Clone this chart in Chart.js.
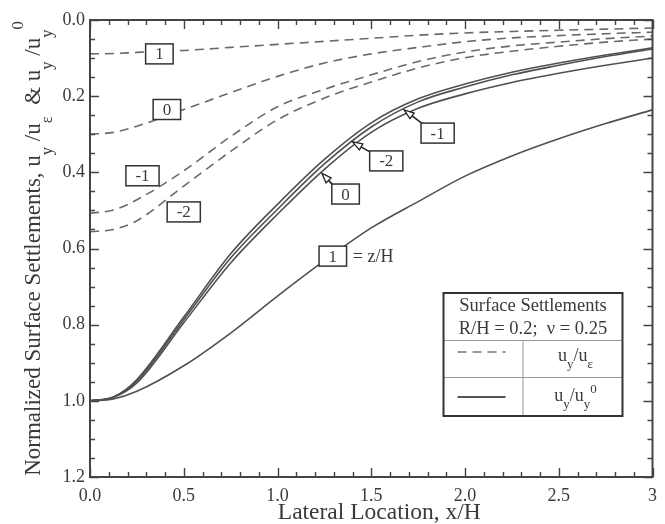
<!DOCTYPE html>
<html>
<head>
<meta charset="utf-8">
<script src="https://cdn.jsdelivr.net/npm/chart.js@4.4.1/dist/chart.umd.min.js"></script>
<style>
  html, body { margin: 0; padding: 0; background: #fff; }
  canvas { display: block; }
</style>
</head>
<body>
<canvas id="settleChart" width="665" height="524"></canvas>
<script>
// lateral location x/H shared by all curves
const xH = [0, 0.125, 0.25, 0.5, 0.75, 1.0, 1.25, 1.5, 1.75, 2.0, 2.25, 2.5, 2.75, 3.0];

// u_y / u_eps (dashed), one per z/H
const dashZ1  = [0.089, 0.088, 0.085, 0.080, 0.072, 0.064, 0.056, 0.048, 0.040, 0.034, 0.030, 0.027, 0.024, 0.021];
const dashZ0  = [0.300, 0.295, 0.279, 0.235, 0.191, 0.148, 0.113, 0.089, 0.072, 0.057, 0.047, 0.041, 0.036, 0.032];
const dashZm1 = [0.507, 0.499, 0.472, 0.396, 0.306, 0.228, 0.182, 0.144, 0.109, 0.084, 0.068, 0.058, 0.049, 0.042];
const dashZm2 = [0.556, 0.550, 0.527, 0.436, 0.345, 0.262, 0.205, 0.163, 0.126, 0.099, 0.082, 0.069, 0.058, 0.050];

// u_y / u_y^0 (solid), one per z/H
const solidZ1  = [1.0, 0.995, 0.975, 0.908, 0.822, 0.725, 0.632, 0.546, 0.477, 0.410, 0.357, 0.312, 0.272, 0.236];
const solidZm1 = [1.0, 0.990, 0.944, 0.780, 0.614, 0.484, 0.366, 0.270, 0.207, 0.168, 0.137, 0.113, 0.092, 0.073];
const solidZm2 = [1.0, 0.990, 0.948, 0.787, 0.625, 0.497, 0.378, 0.281, 0.215, 0.176, 0.144, 0.119, 0.096, 0.076];
const solidZ0  = [1.0, 0.991, 0.953, 0.795, 0.638, 0.510, 0.392, 0.295, 0.232, 0.194, 0.164, 0.140, 0.119, 0.100];

// axis ticks
const xMajor = [0, 0.5, 1.0, 1.5, 2.0, 2.5, 3];
const xTickText = ['0.0', '0.5', '1.0', '1.5', '2.0', '2.5', '3'];
const yMajor = [0, 0.2, 0.4, 0.6, 0.8, 1.0, 1.2];

// curve labels (data coordinates)
const dashLabels = [
  { text: '1',  x: 0.37, y: 0.089 },
  { text: '0',  x: 0.41, y: 0.235 },
  { text: '-1', x: 0.28, y: 0.409 },
  { text: '-2', x: 0.50, y: 0.504 }
];
const solidLabels = [
  { text: '0',  x: 1.363, y: 0.457, tipX: 1.236, tipY: 0.402 },
  { text: '-2', x: 1.58,  y: 0.370, tipX: 1.400, tipY: 0.320 },
  { text: '-1', x: 1.854, y: 0.297, tipX: 1.675, tipY: 0.236 },
  { text: '1',  x: 1.295, y: 0.620 }
];

const FONT = "'Liberation Serif', 'Times New Roman', serif";
const INK = '#3a3a3a';

const pts = ys => ys.map((y, i) => ({ x: xH[i], y: y }));

function dashed(ys) {
  return { data: pts(ys), showLine: true, borderColor: '#6a6a6a', borderWidth: 1.6,
    borderDash: [9, 6], pointRadius: 0, cubicInterpolationMode: 'monotone' };
}
function solid(ys) {
  return { data: pts(ys), showLine: true, borderColor: '#505050', borderWidth: 1.6,
    pointRadius: 0, cubicInterpolationMode: 'monotone' };
}

function near(v, list) {
  return list.some(m => Math.abs(v - m) < 1e-6);
}

// text with sub/superscripts; subDy, supDy in em
function drawRich(ctx, parts, x, y, size, subDy, supDy) {
  let cx = x;
  for (const p of parts) {
    const s = (p.sub || p.sup) ? size * 0.72 : size;
    ctx.font = s + 'px ' + FONT;
    const dy = p.sub ? size * subDy : p.sup ? -size * supDy : 0;
    ctx.fillText(p.t, cx, y + dy);
    cx += ctx.measureText(p.t).width;
  }
  return cx - x;
}
function richWidth(ctx, parts, size) {
  let w = 0;
  for (const p of parts) {
    ctx.font = ((p.sub || p.sup) ? size * 0.72 : size) + 'px ' + FONT;
    w += ctx.measureText(p.t).width;
  }
  return w;
}

function labelBox(ctx, text, cx, cy) {
  ctx.font = '17px ' + FONT;
  const w = ctx.measureText(text).width + 19;
  const h = 20;
  ctx.fillStyle = '#fff';
  ctx.fillRect(cx - w / 2, cy - h / 2, w, h);
  ctx.strokeStyle = '#333';
  ctx.lineWidth = 1.5;
  ctx.strokeRect(cx - w / 2, cy - h / 2, w, h);
  ctx.fillStyle = INK;
  ctx.textAlign = 'center';
  ctx.textBaseline = 'middle';
  ctx.fillText(text, cx, cy + 1);
}

function arrow(ctx, x0, y0, x1, y1) {
  const ang = Math.atan2(y1 - y0, x1 - x0);
  const len = 10, half = 3.5;
  const bx = x1 - len * Math.cos(ang), by = y1 - len * Math.sin(ang);
  ctx.strokeStyle = '#222';
  ctx.lineWidth = 1.6;
  ctx.beginPath();
  ctx.moveTo(x0, y0);
  ctx.lineTo(bx, by);
  ctx.stroke();
  ctx.beginPath();
  ctx.moveTo(x1, y1);
  ctx.lineTo(bx + half * Math.sin(ang), by - half * Math.cos(ang));
  ctx.lineTo(bx - half * Math.sin(ang), by + half * Math.cos(ang));
  ctx.closePath();
  ctx.fillStyle = '#fff';
  ctx.fill();
  ctx.lineWidth = 1.3;
  ctx.stroke();
}

const decorPlugin = {
  id: 'decor',
  afterDatasetsDraw(chart) {
    const ctx = chart.ctx;
    const sx = chart.scales.x, sy = chart.scales.y;
    ctx.save();

    dashLabels.forEach(l => labelBox(ctx, l.text, sx.getPixelForValue(l.x), sy.getPixelForValue(l.y)));
    solidLabels.forEach(l => {
      const cx = sx.getPixelForValue(l.x), cy = sy.getPixelForValue(l.y);
      if (l.tipX !== undefined) {
        arrow(ctx, cx - 8, cy - 4, sx.getPixelForValue(l.tipX), sy.getPixelForValue(l.tipY));
      }
      labelBox(ctx, l.text, cx, cy);
    });
    // "= z/H" next to the z/H = 1 solid label
    const z1 = solidLabels[3];
    ctx.font = '18px ' + FONT;
    ctx.textAlign = 'left';
    ctx.textBaseline = 'alphabetic';
    ctx.fillStyle = INK;
    ctx.fillText('= z/H', sx.getPixelForValue(z1.x) + 20, sy.getPixelForValue(z1.y) + 6);

    // legend table
    const a = chart.chartArea;
    const L = a.right - 209, T = a.bottom - 184, W = 179, H = 123;
    ctx.fillStyle = '#fff';
    ctx.fillRect(L, T, W, H);
    ctx.strokeStyle = '#999';
    ctx.lineWidth = 1;
    ctx.beginPath();
    ctx.moveTo(L, T + 47.5); ctx.lineTo(L + W, T + 47.5);
    ctx.moveTo(L, T + 84.5); ctx.lineTo(L + W, T + 84.5);
    ctx.moveTo(L + 79.5, T + 47); ctx.lineTo(L + 79.5, T + H);
    ctx.stroke();
    ctx.strokeStyle = '#333';
    ctx.lineWidth = 2;
    ctx.strokeRect(L, T, W, H);

    ctx.fillStyle = INK;
    ctx.textAlign = 'center';
    ctx.font = '18.5px ' + FONT;
    ctx.fillText('Surface Settlements', L + W / 2, T + 18);
    ctx.fillText('R/H = 0.2;  \u03BD = 0.25', L + W / 2, T + 41);

    ctx.strokeStyle = '#777';
    ctx.lineWidth = 1.6;
    ctx.setLineDash([9, 6]);
    ctx.beginPath(); ctx.moveTo(L + 14, T + 59); ctx.lineTo(L + 62, T + 59); ctx.stroke();
    ctx.setLineDash([]);
    ctx.strokeStyle = '#555';
    ctx.lineWidth = 2.2;
    ctx.beginPath(); ctx.moveTo(L + 14, T + 104); ctx.lineTo(L + 62, T + 104); ctx.stroke();

    ctx.textAlign = 'left';
    const row1 = [{ t: 'u' }, { t: 'y', sub: 1 }, { t: '/u' }, { t: '\u03B5', sub: 1 }];
    const row2 = [{ t: 'u' }, { t: 'y', sub: 1 }, { t: '/u' }, { t: 'y', sub: 1 }, { t: '0', sup: 1 }];
    drawRich(ctx, row1, L + 132 - richWidth(ctx, row1, 18) / 2, T + 68, 18, 0.4, 0.45);
    drawRich(ctx, row2, L + 132 - richWidth(ctx, row2, 18) / 2, T + 108, 18, 0.4, 0.45);
    ctx.restore();
  },
  afterDraw(chart) {
    const ctx = chart.ctx;
    const a = chart.chartArea;
    const sx = chart.scales.x, sy = chart.scales.y;
    ctx.save();
    ctx.strokeStyle = '#444';
    ctx.lineWidth = 1.4;
    ctx.beginPath();
    sx.ticks.forEach(t => {
      const px = Math.round(sx.getPixelForValue(t.value)) + 0.5;
      const len = near(t.value, xMajor) ? 9 : 5;
      ctx.moveTo(px, a.bottom); ctx.lineTo(px, a.bottom - len);
      ctx.moveTo(px, a.top); ctx.lineTo(px, a.top + len);
    });
    sy.ticks.forEach(t => {
      const py = Math.round(sy.getPixelForValue(t.value)) + 0.5;
      const len = near(t.value, yMajor) ? 9 : 5;
      ctx.moveTo(a.left, py); ctx.lineTo(a.left + len, py);
      ctx.moveTo(a.right, py); ctx.lineTo(a.right - len, py);
    });
    ctx.stroke();
    ctx.lineWidth = 2;
    ctx.strokeStyle = '#444';
    ctx.strokeRect(a.left, a.top, a.right - a.left, a.bottom - a.top);

    // axis titles
    ctx.fillStyle = INK;
    ctx.textAlign = 'center';
    ctx.textBaseline = 'alphabetic';
    ctx.font = '23.5px ' + FONT;
    ctx.fillText('Lateral Location, x/H', (a.left + a.right) / 2 + 8, 519);

    const yTitle = [
      { t: 'Normalized Surface Settlements, u' }, { t: 'y', sub: 1 }, { t: ' /u' }, { t: '\u03B5', sub: 1 },
      { t: '  & u' }, { t: 'y', sub: 1 }, { t: ' /u' }, { t: 'y', sub: 1 }, { t: '0', sup: 1 }
    ];
    ctx.translate(40, (a.top + a.bottom) / 2);
    ctx.rotate(-Math.PI / 2);
    ctx.textAlign = 'left';
    drawRich(ctx, yTitle, -richWidth(ctx, yTitle, 23) / 2, 0, 23, 0.5, 0.75);
    ctx.restore();
  }
};

new Chart(document.getElementById('settleChart'), {
  type: 'scatter',
  data: {
    datasets: [
      dashed(dashZ1), dashed(dashZ0), dashed(dashZm1), dashed(dashZm2),
      solid(solidZ1), solid(solidZm1), solid(solidZm2), solid(solidZ0)
    ]
  },
  options: {
    responsive: false,
    animation: false,
    events: [],
    layout: { padding: { top: 20, right: 8, left: 0, bottom: 0 } },
    plugins: { legend: { display: false }, tooltip: { enabled: false } },
    scales: {
      x: {
        type: 'linear', min: 0, max: 3,
        grid: { display: false, drawTicks: false },
        border: { display: false },
        ticks: {
          stepSize: 0.1, autoSkip: false, maxRotation: 0, padding: 8,
          color: INK, font: { family: FONT, size: 18 },
          callback: v => {
            const i = xMajor.findIndex(m => Math.abs(m - v) < 1e-6);
            return i >= 0 ? xTickText[i] : '';
          }
        },
        afterFit: s => { s.height = 47; }
      },
      y: {
        type: 'linear', min: 0, max: 1.2, reverse: true,
        grid: { display: false, drawTicks: false },
        border: { display: false },
        ticks: {
          stepSize: 0.05, autoSkip: false, padding: 5,
          color: INK, font: { family: FONT, size: 18 },
          callback: v => near(v, yMajor) ? v.toFixed(1) : ''
        },
        afterFit: s => { s.width = 90; }
      }
    }
  },
  plugins: [decorPlugin]
});
</script>
</body>
</html>
